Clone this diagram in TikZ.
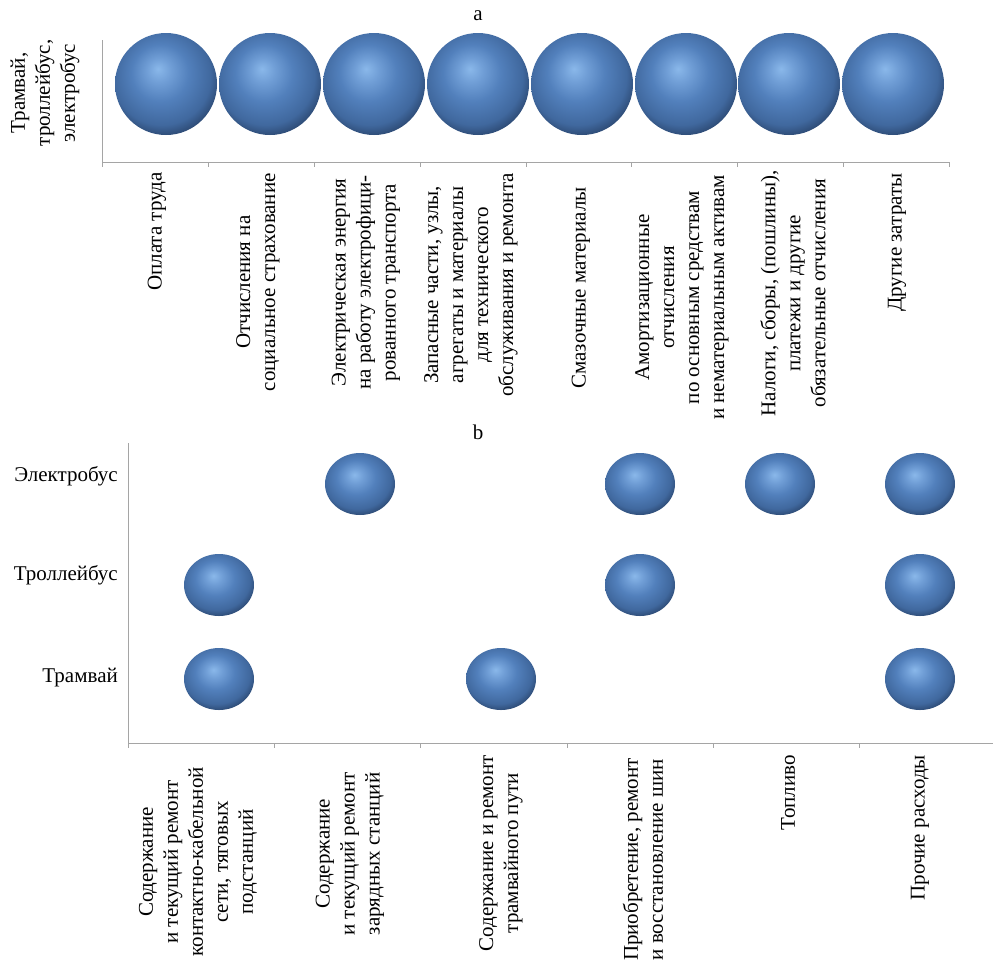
\documentclass[tikz,border=0pt]{standalone}
\usepackage{fontspec}
\setmainfont{Liberation Serif}
\usetikzlibrary{shapes.geometric}

\definecolor{axisgray}{RGB}{165,165,165}
\definecolor{sphhigh}{RGB}{138,184,234}
\definecolor{sphlight}{RGB}{112,158,214}
\definecolor{sphbase}{RGB}{82,128,188}
\definecolor{sphdark}{RGB}{64,104,158}
\definecolor{sphedge}{RGB}{32,54,88}
\pgfdeclareradialshading{sphere}{\pgfpoint{-4bp}{7.5bp}}{%
  color(0bp)=(sphhigh); color(6bp)=(sphlight); color(14bp)=(sphbase);
  color(24bp)=(sphdark); color(32bp)=(sphedge); color(50bp)=(sphedge)}

\begin{document}
\begin{tikzpicture}[x=1pt, y=-1pt,
    font=\fontsize{21}{25}\selectfont,
    axis/.style={draw=axisgray, line width=1pt},
    bigball/.style={circle, shading=sphere, minimum size=102pt, inner sep=0pt},
    smallball/.style={ellipse, shading=sphere, minimum width=70pt, minimum height=62pt, inner sep=0pt},
    catlabel/.style={rotate=90, anchor=east, align=center, inner sep=0pt}]
     \useasboundingbox (0,0) rectangle (993,962);

     % Panel a
     \node (titleA) at (478,16) {a};
     \node[rotate=90, align=center, inner sep=0pt] (rowsA) at (45,93) {Трамвай,\\троллейбус,\\электробус};
     \draw[axis] (102,40) -- (102,162) -- (949,162);
     \draw[axis] (102,162) -- (102,167) (208,162) -- (208,167) (314,162) -- (314,167)
        (420,162) -- (420,167) (526,162) -- (526,167) (631,162) -- (631,167)
        (737,162) -- (737,167) (843,162) -- (843,167) (949,162) -- (949,167);

     \node[bigball] (ballA1) at (166,84) {};
     \node[bigball] (ballA2) at (270,84) {};
     \node[bigball] (ballA3) at (374,84) {};
     \node[bigball] (ballA4) at (478,84) {};
     \node[bigball] (ballA5) at (582,84) {};
     \node[bigball] (ballA6) at (686,84) {};
     \node[bigball] (ballA7) at (789,84) {};
     \node[bigball] (ballA8) at (893,84) {};

     \node[catlabel] (catA1) at (157,172) {Оплата труда};
     \node[catlabel] (catA2) at (258,173) {Отчисления на\\социальное страхование};
     \node[catlabel] (catA3) at (366,175) {Электрическая энергия\\на работу электрофици-\\рованного транспорта};
     \node[catlabel] (catA4) at (471,173) {Запасные части, узлы,\\агрегаты и материалы\\для технического\\обслуживания и ремонта};
     \node[catlabel] (catA5) at (581,187) {Смазочные материалы};
     \node[catlabel] (catA6) at (682,175) {Амортизационные\\отчисления\\по основным средствам\\и нематериальным активам};
     \node[catlabel] (catA7) at (793,170) {Налоги, сборы, (пошлины),\\платежи и другие\\обязательные отчисления};
     \node[catlabel] (catA8) at (897,173) {Другие затраты};

     % Panel b
     \node (titleB) at (478,432) {b};
     \draw[axis] (128,443) -- (128,743) -- (993,743);
     \draw[axis] (128,743) -- (128,748) (274,743) -- (274,748) (420,743) -- (420,748)
        (567,743) -- (567,748) (713,743) -- (713,748) (859,743) -- (859,748);

     \node[anchor=east, inner sep=0pt] (rowE) at (118,476) {Электробус};
     \node[anchor=east, inner sep=0pt] (rowT) at (118,575) {Троллейбус};
     \node[anchor=east, inner sep=0pt] (rowR) at (118,678) {Трамвай};

     \node[smallball] (ballE2) at (360,484) {};
     \node[smallball] (ballE4) at (640,484) {};
     \node[smallball] (ballE5) at (780,484) {};
     \node[smallball] (ballE6) at (920,484) {};
     \node[smallball] (ballT1) at (219,585) {};
     \node[smallball] (ballT4) at (640,585) {};
     \node[smallball] (ballT6) at (920,585) {};
     \node[smallball] (ballR1) at (219,679) {};
     \node[smallball] (ballR3) at (501,679) {};
     \node[smallball] (ballR6) at (920,679) {};

     \node[catlabel] (catB1) at (198,767) {Содержание\\и текущий ремонт\\контактно-кабельной\\сети, тяговых\\подстанций};
     \node[catlabel] (catB2) at (350,772) {Содержание\\и текущий ремонт\\зарядных станций};
     \node[catlabel] (catB3) at (501,755) {Содержание и ремонт\\трамвайного пути};
     \node[catlabel] (catB4) at (643,758) {Приобретение, ремонт\\и восстановление шин};
     \node[catlabel] (catB5) at (788,755) {Топливо};
     \node[catlabel] (catB6) at (920,755) {Прочие расходы};

\end{tikzpicture}
\end{document}
